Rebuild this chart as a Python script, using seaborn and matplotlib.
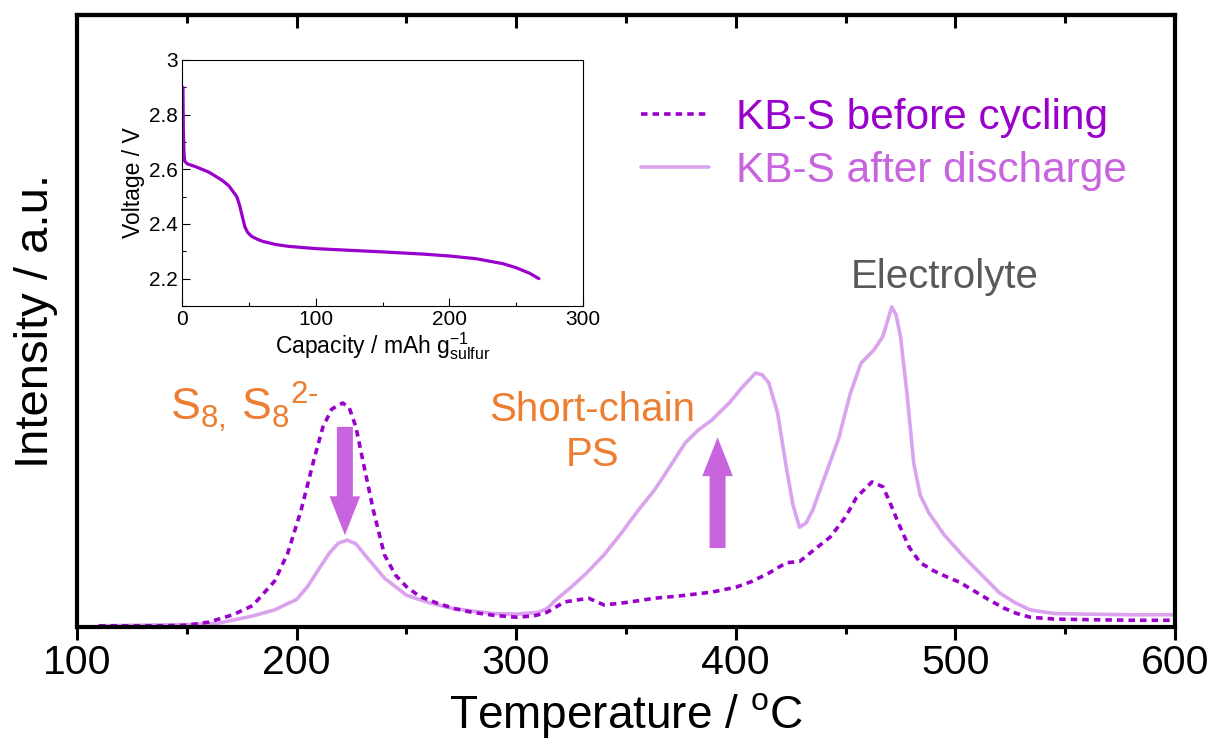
import numpy as np
import pandas as pd
import seaborn as sns
import matplotlib.pyplot as plt
from matplotlib.ticker import MultipleLocator, FuncFormatter

sns.set_style("ticks")
plt.rcParams['font.family'] = ['Liberation Sans', 'DejaVu Sans']
plt.rcParams['mathtext.fontset'] = 'custom'
plt.rcParams['mathtext.rm'] = 'Liberation Sans'
plt.rcParams['mathtext.it'] = 'Liberation Sans:italic'
plt.rcParams['mathtext.bf'] = 'Liberation Sans:bold'
plt.rcParams['text.color'] = 'black'
plt.rcParams['axes.labelcolor'] = 'black'
plt.rcParams['xtick.color'] = 'black'
plt.rcParams['ytick.color'] = 'black'

# TGA-MS style curves (intensity in a.u., 0..1)
temp_before = [110, 140, 150, 160, 171, 180, 190, 196, 202, 208, 212, 216, 221, 224, 227,
               230, 235, 240, 245, 250, 256, 264, 272, 280, 290, 300, 308, 314, 322, 333,
               340, 350, 363, 375, 389, 400, 407, 415, 423, 429, 437, 443, 450, 455, 462,
               467, 470, 474, 479, 484, 490, 496, 502, 508, 515, 522, 528, 534, 545, 560,
               580, 600]
int_before = [0.002, 0.002, 0.003, 0.008, 0.020, 0.035, 0.075, 0.121, 0.19, 0.275, 0.327, 0.356, 0.366, 0.358, 0.327,
              0.275, 0.19, 0.118, 0.085, 0.066, 0.050, 0.039, 0.030, 0.024, 0.019, 0.016, 0.018, 0.024, 0.041, 0.047,
              0.036, 0.040, 0.047, 0.051, 0.057, 0.065, 0.074, 0.088, 0.105, 0.107, 0.130, 0.147, 0.180, 0.212, 0.237,
              0.229, 0.205, 0.170, 0.130, 0.105, 0.092, 0.082, 0.073, 0.060, 0.045, 0.031, 0.022, 0.016, 0.013, 0.012,
              0.011, 0.011]

temp_after = [110, 150, 164, 180, 190, 200, 205, 210, 215, 219, 223, 227, 232, 240, 250, 260,
              270, 280, 290, 300, 310, 314, 318, 325, 332, 340, 348, 355, 363, 370, 377,
              383, 389, 397, 403, 409, 412, 415, 419, 423, 426, 429, 432, 435, 441, 447,
              452, 457, 460, 463, 467, 471, 473, 475, 478, 481, 484, 488, 495, 504, 512,
              520, 527, 534, 545, 560, 580, 600]
int_after = [0.002, 0.004, 0.006, 0.018, 0.028, 0.045, 0.066, 0.094, 0.121, 0.137, 0.142, 0.136, 0.114, 0.080, 0.052, 0.040,
             0.031, 0.026, 0.022, 0.021, 0.024, 0.030, 0.044, 0.065, 0.088, 0.118, 0.154, 0.188, 0.224, 0.262, 0.301,
             0.322, 0.338, 0.366, 0.392, 0.415, 0.412, 0.399, 0.350, 0.261, 0.200, 0.163, 0.170, 0.191, 0.250, 0.310,
             0.380, 0.431, 0.442, 0.453, 0.475, 0.523, 0.510, 0.474, 0.380, 0.268, 0.215, 0.186, 0.150, 0.114, 0.085,
             0.056, 0.040, 0.028, 0.022, 0.021, 0.020, 0.020]

# inset: discharge curve
capacity = [0.7, 1, 1.5, 2, 4, 7, 10, 15, 20, 25, 30, 35, 38, 41, 43, 45, 47, 49, 52, 56,
            60, 70, 80, 100, 120, 150, 180, 200, 220, 240, 250, 260, 267]
voltage = [2.90, 2.75, 2.66, 2.63, 2.62, 2.615, 2.61, 2.60, 2.59, 2.575, 2.56, 2.54, 2.52, 2.50, 2.47,
           2.43, 2.39, 2.37, 2.355, 2.345, 2.337, 2.325, 2.318, 2.31, 2.305, 2.298, 2.29, 2.283, 2.273,
           2.255, 2.24, 2.22, 2.20]

labels = ["KB-S before cycling", "KB-S after discharge"]
dark = "#9900CC"
light = "#DBA2EE"
mid = "#C864DE"
orange = "#ED7D31"

fig = plt.figure(figsize=(12.14, 7.51), dpi=100)
ax = fig.add_axes([0.0634, 0.1651, 0.9045, 0.815])

sns.lineplot(x=temp_after, y=int_after, ax=ax, color=light, lw=2.6, label=labels[1], sort=False)
sns.lineplot(x=temp_before, y=int_before, ax=ax, color=dark, lw=2.6, linestyle=(0, (1.8, 1.4)),
             label=labels[0], sort=False)

ax.set_xlim(100, 600)
ax.set_ylim(0, 1)
ax.set_yticks([])
ax.xaxis.set_major_locator(MultipleLocator(100))
ax.xaxis.set_minor_locator(MultipleLocator(50))
ax.tick_params(axis='x', which='major', direction='out', length=9.5, width=2.2, labelsize=29.5, pad=3)
ax.tick_params(axis='x', which='minor', direction='out', length=5, width=2.2)
for s in ax.spines.values():
    s.set_visible(True)
    s.set_linewidth(3)
    s.set_color('black')
top = ax.secondary_xaxis('top')
top.xaxis.set_major_locator(MultipleLocator(100))
top.xaxis.set_minor_locator(MultipleLocator(50))
top.tick_params(which='both', direction='in', labeltop=False, width=2.2)
top.tick_params(which='major', length=9.5)
top.tick_params(which='minor', length=6)
top.spines['top'].set_linewidth(3)

ax.set_xlabel("Temperature / $^{\\mathrm{o}}$C", fontsize=33, labelpad=6)
ax.set_ylabel("Intensity / a.u.", fontsize=34, labelpad=14)

# legend
handles, labs = ax.get_legend_handles_labels()
order = [labs.index(l) for l in labels]
leg = ax.legend([handles[i] for i in order], [labs[i] for i in order], loc='upper left',
                bbox_to_anchor=(641 / 1214, 1 - 98 / 751), bbox_transform=fig.transFigure,
                frameon=False, fontsize=30.5, handlelength=1.6, handletextpad=0.65,
                labelspacing=0.3, borderpad=0, borderaxespad=0)
for t, c in zip(leg.get_texts(), [dark, mid]):
    t.set_color(c)

# annotations
ax.text(142.4, 0.338, "S$_{8,}$\u2009S$_8$$^{2\\text{-}}$", color=orange, fontsize=32,
        ha='left', va='baseline')
ax.text(334.7, 0.318, "Short-chain\nPS", color=orange, fontsize=29, ha='center', va='center',
        linespacing=1.25)
ax.text(495, 0.554, "Electrolyte", color="#595959", fontsize=29, ha='center', va='baseline')

arrow = dict(arrowstyle="simple,head_length=28,head_width=22,tail_width=11.5", color=mid,
             mutation_scale=1, shrinkA=0, shrinkB=0, lw=0)
ax.annotate("", xy=(222, 0.150), xytext=(222, 0.327), arrowprops=arrow)
ax.annotate("", xy=(391.7, 0.310), xytext=(391.7, 0.129), arrowprops=arrow)

# inset
axin = fig.add_axes([182 / 1214, 1 - 306 / 751, 401 / 1214, 246 / 751])
sns.lineplot(x=capacity, y=voltage, ax=axin, color=dark, lw=2.3, sort=False)
axin.set_xlim(0, 300)
axin.set_ylim(2.1, 3.0)
axin.set_xticks([0, 100, 200, 300])
axin.set_yticks([2.2, 2.4, 2.6, 2.8, 3.0])
axin.yaxis.set_major_formatter(FuncFormatter(lambda v, p: f"{v:g}"))
axin.xaxis.set_minor_locator(MultipleLocator(50))
axin.yaxis.set_minor_locator(MultipleLocator(0.1))
axin.tick_params(which='major', direction='in', length=5.5, width=0.8, labelsize=15, pad=3)
axin.tick_params(which='minor', direction='in', length=3, width=0.8)
for s in axin.spines.values():
    s.set_visible(True)
    s.set_linewidth(0.8)
    s.set_color('black')
axin.set_xlabel("Capacity / mAh g$^{-1}_{\\mathrm{sulfur}}$", fontsize=16.5, labelpad=1)
axin.set_ylabel("Voltage / V", fontsize=16.5, labelpad=3)

fig.savefig("out.png", dpi=100)
